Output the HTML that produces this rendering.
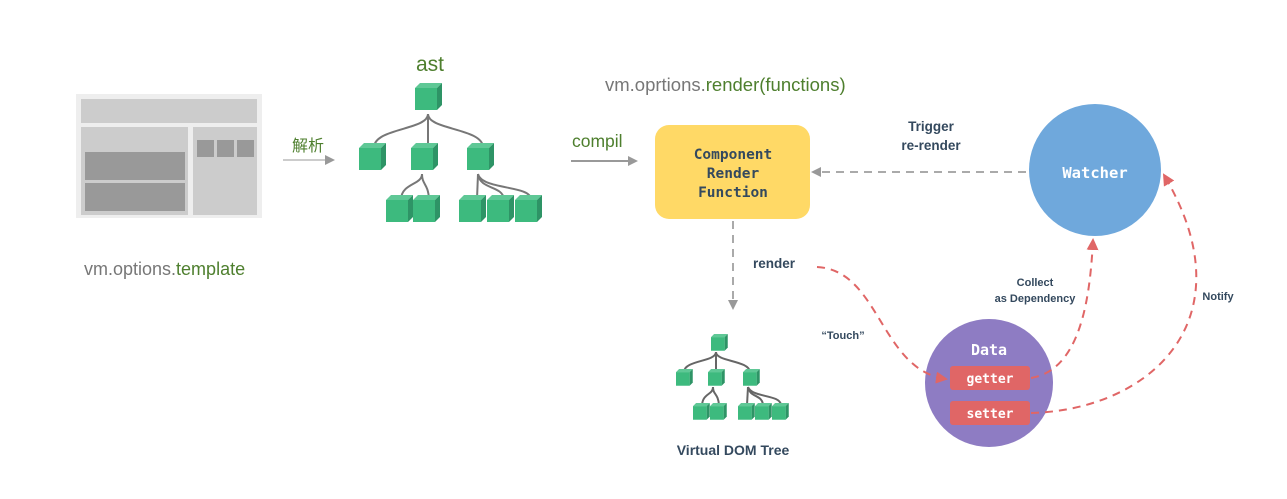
<!DOCTYPE html>
<html><head><meta charset="utf-8"><style>
html,body{margin:0;padding:0;background:#fff;}
svg{display:block;}
.lbl{font-family:"Liberation Sans","DejaVu Sans",sans-serif;font-weight:bold;fill:#34495e;}
.mono{font-family:"DejaVu Sans Mono","Liberation Mono",monospace;font-weight:bold;}
.cn{font-family:"Liberation Sans","Noto Sans CJK SC",sans-serif;}
</style></head><body>
<svg width="1287" height="499" viewBox="0 0 1287 499" xmlns="http://www.w3.org/2000/svg">
<defs>
<g id="cube">
<polygon points="0,5 5,0 27,0 22,5" fill="#5fc896"/>
<polygon points="22,5 27,0 27,22 22,27" fill="#2e9466"/>
<rect x="0" y="5" width="22" height="22" fill="#3dba7e"/>
</g>
<marker id="ag" markerWidth="10" markerHeight="10" refX="8" refY="5" orient="auto" markerUnits="userSpaceOnUse"><path d="M0,0 L10,5 L0,10 z" fill="#999"/></marker>
<marker id="ar" markerWidth="12" markerHeight="12" refX="10" refY="6" orient="auto" markerUnits="userSpaceOnUse"><path d="M0,0 L12,6 L0,12 z" fill="#e06666"/></marker>
</defs>

<rect x="76" y="94" width="186" height="124" fill="#eeeeee"/>
<rect x="81" y="99" width="176" height="24" fill="#cccccc"/>
<rect x="81" y="127" width="107" height="88" fill="#cccccc"/>
<rect x="193" y="127" width="64" height="88" fill="#cccccc"/>
<rect x="85" y="152" width="100" height="28" fill="#999"/>
<rect x="85" y="183" width="100" height="28" fill="#999"/>
<rect x="197" y="140" width="17" height="17" fill="#999"/>
<rect x="217" y="140" width="17" height="17" fill="#999"/>
<rect x="237" y="140" width="17" height="17" fill="#999"/>
<text x="84" y="275" font-family="Liberation Sans,sans-serif" font-size="18" fill="#777">vm.options.<tspan fill="#4e7f2e">template</tspan></text>

<text x="292" y="151" class="cn" font-size="16" fill="#4e7f2e">解析</text>
<line x1="283" y1="160" x2="333" y2="160" stroke="#ccc" stroke-width="2" marker-end="url(#ag)"/>

<text x="416" y="71" font-family="Liberation Sans,sans-serif" font-size="21" fill="#4e7f2e">ast</text>
<g fill="none" stroke="#777" stroke-width="2">
<path d="M428,114 C428,130 375,128 374,147"/>
<path d="M428,114 L428,147"/>
<path d="M428,114 C428,130 482,128 483,147"/>
<path d="M422,174 C422,185 402,183 401,199"/>
<path d="M422,174 C422,185 428,183 429,199"/>
<path d="M478,174 L477,199"/>
<path d="M478,174 C480,190 502,185 504,199"/>
<path d="M478,174 C482,190 530,185 531,199"/>
</g>
<use href="#cube" x="415" y="83"/>
<use href="#cube" x="359" y="143"/>
<use href="#cube" x="411" y="143"/>
<use href="#cube" x="467" y="143"/>
<use href="#cube" x="386" y="195"/>
<use href="#cube" x="413" y="195"/>
<use href="#cube" x="459" y="195"/>
<use href="#cube" x="487" y="195"/>
<use href="#cube" x="515" y="195"/>

<text x="605" y="91" font-family="Liberation Sans,sans-serif" font-size="18.5" fill="#777">vm.oprtions.<tspan fill="#4e7f2e">render(functions)</tspan></text>
<text x="572" y="147" font-family="Liberation Sans,sans-serif" font-size="17.5" fill="#4e7f2e">compil</text>
<line x1="571" y1="161" x2="636" y2="161" stroke="#999" stroke-width="2" marker-end="url(#ag)"/>

<rect x="655" y="125" width="155" height="94" rx="14" fill="#ffd966"/>
<g class="mono" font-size="14.5" fill="#34495e" text-anchor="middle">
<text x="733" y="159">Component</text>
<text x="733" y="178">Render</text>
<text x="733" y="197">Function</text>
</g>

<line x1="1026" y1="172" x2="813" y2="172" stroke="#aaa" stroke-width="2" stroke-dasharray="8,6" marker-end="url(#ag)"/>
<text x="931" y="131" class="lbl" font-size="13.5" text-anchor="middle">Trigger</text>
<text x="931" y="150" class="lbl" font-size="13.5" text-anchor="middle">re-render</text>

<circle cx="1095" cy="170" r="66" fill="#6fa8dc"/>
<text x="1095" y="178" class="mono" font-size="15.5" fill="#fff" text-anchor="middle">Watcher</text>

<line x1="733" y1="221" x2="733" y2="308" stroke="#aaa" stroke-width="2" stroke-dasharray="8,6" marker-end="url(#ag)"/>
<text x="753" y="268" class="lbl" font-size="13.5">render</text>

<g fill="none" stroke="#666" stroke-width="2">
<path d="M716,352 C716,362 684,360 684,372"/>
<path d="M716,352 L716,372"/>
<path d="M716,352 C716,362 749,360 750,372"/>
<path d="M713,387 C713,395 703,393 702,405"/>
<path d="M713,387 C713,395 718,393 719,405"/>
<path d="M748,387 L747,405"/>
<path d="M748,387 C750,398 762,394 763,405"/>
<path d="M748,387 C752,398 780,394 781,405"/>
</g>
<g transform="translate(711,334) scale(0.62)"><use href="#cube"/></g>
<g transform="translate(676,369) scale(0.62)"><use href="#cube"/></g>
<g transform="translate(708,369) scale(0.62)"><use href="#cube"/></g>
<g transform="translate(743,369) scale(0.62)"><use href="#cube"/></g>
<g transform="translate(693,403) scale(0.62)"><use href="#cube"/></g>
<g transform="translate(710,403) scale(0.62)"><use href="#cube"/></g>
<g transform="translate(738,403) scale(0.62)"><use href="#cube"/></g>
<g transform="translate(755,403) scale(0.62)"><use href="#cube"/></g>
<g transform="translate(772,403) scale(0.62)"><use href="#cube"/></g>
<text x="733" y="455" class="lbl" font-size="14" text-anchor="middle">Virtual DOM Tree</text>

<circle cx="989" cy="383" r="64" fill="#8e7cc3"/>
<text x="989" y="355" class="mono" font-size="15" fill="#fff" text-anchor="middle">Data</text>
<rect x="950" y="366" width="80" height="24" rx="3" fill="#e06666"/>
<rect x="950" y="401" width="80" height="24" rx="3" fill="#e06666"/>
<text x="990" y="383" class="mono" font-size="13" fill="#fff" text-anchor="middle">getter</text>
<text x="990" y="418" class="mono" font-size="13" fill="#fff" text-anchor="middle">setter</text>

<g fill="none" stroke="#e06666" stroke-width="2" stroke-dasharray="8,6">
<path d="M817,267 C880,270 880,370 946,379" marker-end="url(#ar)"/>
<path d="M1031,378 C1080,370 1090,300 1093,240" marker-end="url(#ar)"/>
<path d="M1031,413 C1150,410 1250,320 1164,175" marker-end="url(#ar)"/>
</g>
<text x="843" y="339" class="lbl" font-size="11" text-anchor="middle">“Touch”</text>
<text x="1035" y="286" class="lbl" font-size="11" text-anchor="middle">Collect</text>
<text x="1035" y="302" class="lbl" font-size="11" text-anchor="middle">as Dependency</text>
<text x="1218" y="300" class="lbl" font-size="11" text-anchor="middle">Notify</text>
</svg>
</body></html>
